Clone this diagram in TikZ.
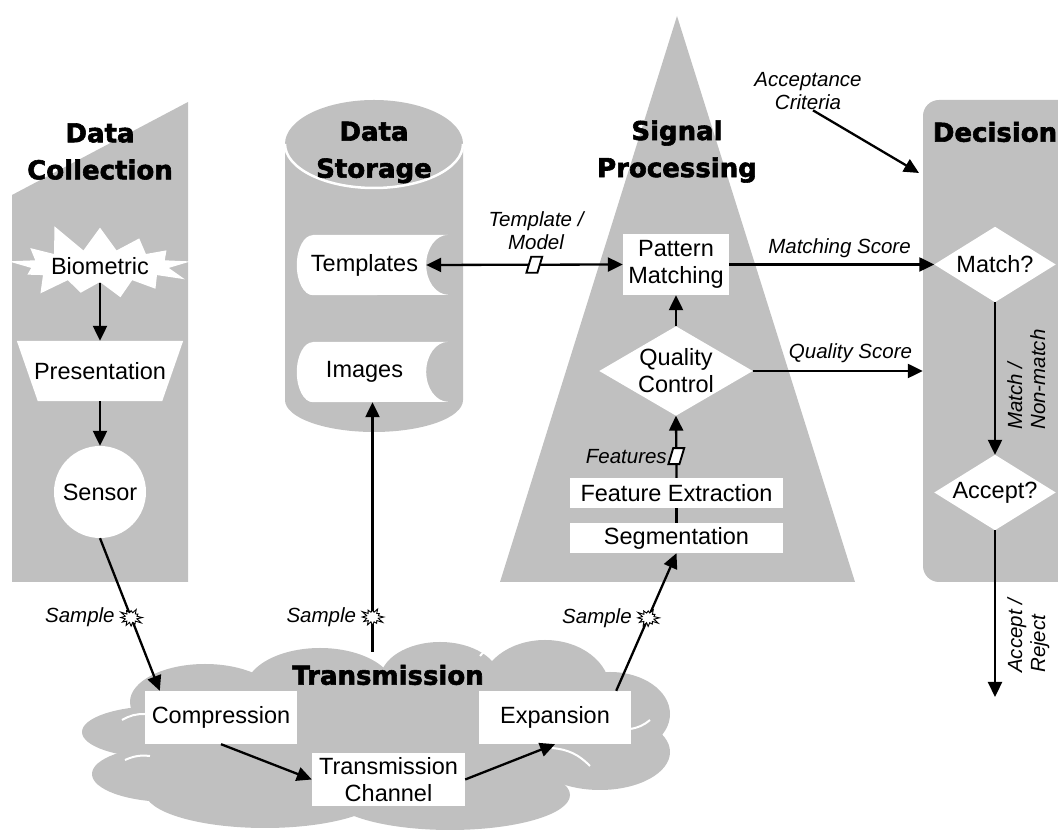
\documentclass[tikz,border=0pt]{standalone}
\usepackage{fontspec}
\setmainfont{Liberation Sans}
\newfontfamily\headfont{DejaVu Sans Bold}[FakeBold=2.2]
\usetikzlibrary{arrows.meta,shapes.symbols,shapes.geometric}
\definecolor{pg}{HTML}{C0C0C0}
\pgfdeclarelayer{back}\pgfdeclarelayer{mid}\pgfsetlayers{back,mid,main}
\begin{document}
\begin{tikzpicture}[x=1pt,y=1pt,
  bx/.style={font=\fontsize{23.5}{27}\selectfont, align=center, inner sep=0pt},
  lab/.style={font=\fontsize{20.5}{23}\selectfont\itshape},
  hd/.style={font=\headfont\fontsize{26}{37}\selectfont, align=center, inner sep=0pt},
  arr/.style={line width=2.3pt, -{Triangle[length=15pt,width=14pt]}},
  biarr/.style={line width=2.3pt, {Triangle[length=15pt,width=14pt]}-{Triangle[length=15pt,width=14pt]}},
  ln/.style={line width=2.3pt},
  burst/.style={starburst, draw, fill=white, line width=0.9pt, starburst points=12, starburst point height=6pt, minimum width=24pt, minimum height=22pt, inner sep=0pt, random starburst=3},
  para/.style={draw, fill=white, line width=1.9pt, minimum width=11pt, minimum height=16pt, inner sep=0pt, xslant=0.3},
  wbox/.style={bx, fill=white},
  cl/.style={white, line width=2pt}
]
\useasboundingbox (0,0) rectangle (1058,832);

% ---------- background panels ----------
\begin{pgfonlayer}{back}
\fill[pg] (12,637) -- (188,730) -- (188,250) -- (12,250) -- cycle;
\fill[pg] (285,688) -- (285,432) arc[start angle=180,end angle=360,x radius=89,y radius=32] -- (463,688) arc[start angle=0,end angle=180,x radius=89,y radius=44] -- cycle;
\draw[white,line width=2.5pt] (285,688) arc[start angle=180,end angle=360,x radius=89,y radius=44];
\fill[pg] (677,816) -- (855,250) -- (500,250) -- cycle;
\node[fill=pg, rounded corners=16pt, minimum width=157pt, minimum height=482pt, inner sep=0pt] (dec) at (1001.5,491) {};
% cloud
\fill[pg] (205,130) ellipse[x radius=75,y radius=38];
\fill[pg] (160,100) ellipse[x radius=78,y radius=26];
\fill[pg] (170,58) ellipse[x radius=78,y radius=28];
\fill[pg] (265,40) ellipse[x radius=120,y radius=36];
\fill[pg] (320,142) ellipse[x radius=75,y radius=42];
\fill[pg] (440,152) ellipse[x radius=60,y radius=38];
\fill[pg] (545,142) ellipse[x radius=65,y radius=50];
\fill[pg] (610,118) ellipse[x radius=60,y radius=42];
\fill[pg] (600,80) ellipse[x radius=70,y radius=38];
\fill[pg] (450,37) ellipse[x radius=120,y radius=35];
\fill[pg] (390,92) ellipse[x radius=180,y radius=60];
\draw[cl] (122,112) to[bend left=15] (145,118);
\draw[cl] (125,72) to[bend left=15] (150,76);
\draw[cl] (552,84) to[bend left=20] (590,66);
\draw[cl] (630,103) to[bend right=15] (650,112);
\draw[cl] (380,168) to[bend left=20] (396,180);
\draw[cl] (480,176) to[bend left=20] (496,186);
\end{pgfonlayer}

% ---------- headings ----------
\node[hd] (hcol) at (100,680.5) {Data\\Collection};
\node[hd] (hsto) at (374,679.5) {Data\\Storage};
\node[hd] (hsig) at (677,680.5) {Signal\\Processing};
\node[hd] (hdec) at (995,700) {Decision};
\node[hd] (htra) at (388,157) {Transmission};

% ---------- data collection ----------
\node[starburst, fill=white, bx, starburst points=13, starburst point height=30pt, minimum width=166pt, minimum height=92pt, random starburst=11] (bio) at (100,566) {Biometric};
\node[bx, minimum width=166pt, minimum height=60pt] (pres) at (100,461) {Presentation};
\node[circle, fill=white, bx, minimum size=92pt] (sensor) at (100,340) {Sensor};

% ---------- data storage ----------
\node[minimum width=151pt, minimum height=60pt, inner sep=0pt, label={[bx,xshift=-8pt]center:Templates}] (templ) at (372.5,567) {};
\node[minimum width=151pt, minimum height=60pt, inner sep=0pt, label={[bx,xshift=-8pt]center:Images}] (imgs) at (372.5,460) {};

% ---------- signal processing ----------
\node[wbox, minimum width=106pt, minimum height=61pt] (pm) at (676,567.5) {Pattern\\Matching};
\node[bx, minimum width=153pt, minimum height=89pt] (qc) at (676,461) {Quality\\Control};
\node[wbox, minimum width=213pt, minimum height=30pt] (fe) at (676.5,339) {Feature Extraction};
\node[wbox, minimum width=213pt, minimum height=30pt] (seg) at (676.5,294) {Segmentation};

% ---------- transmission ----------
\node[wbox, minimum width=152pt, minimum height=53pt] (comp) at (221,114.5) {Compression};
\node[wbox, minimum width=152pt, minimum height=53pt] (exp) at (555,114.5) {Expansion};
\node[wbox, minimum width=153pt, minimum height=53pt] (tc) at (388.5,52.5) {Transmission\\Channel};

% ---------- decision ----------
\node[bx, minimum width=121pt, minimum height=75pt] (match) at (995,567.5) {Match?};
\node[bx, minimum width=121pt, minimum height=75pt] (accept) at (995,339.5) {Accept?};

% ---------- white shapes ----------
\begin{pgfonlayer}{mid}
\fill[white] (pres.north west) -- (pres.north east) -- ([xshift=-21pt]pres.south east) -- ([xshift=21pt]pres.south west) -- cycle;
\fill[white] ([xshift=16pt]templ.north west) -- (templ.north east) arc[start angle=90,end angle=270,x radius=22,y radius=30] -- ([xshift=16pt]templ.south west) arc[start angle=270,end angle=90,x radius=16,y radius=30] -- cycle;
\fill[white] ([xshift=16pt]imgs.north west) -- (imgs.north east) arc[start angle=90,end angle=270,x radius=22,y radius=30] -- ([xshift=16pt]imgs.south west) arc[start angle=270,end angle=90,x radius=16,y radius=30] -- cycle;
\fill[white] (qc.north) -- (qc.east) -- (qc.south) -- (qc.west) -- cycle;
\fill[white] (match.north) -- (match.east) -- (match.south) -- (match.west) -- cycle;
\fill[white] (accept.north) -- (accept.east) -- (accept.south) -- (accept.west) -- cycle;
\end{pgfonlayer}

% ---------- labels ----------
\node[lab, align=center, inner sep=0pt] (tm) at (536,601) {Template /\\Model};
\node[lab, inner sep=0pt] (ms) at (839.5,584) {Matching Score};
\node[lab, inner sep=0pt] (qs) at (850.5,479) {Quality Score};
\node[lab, align=center, inner sep=0pt] (acc) at (808,740.5) {Acceptance\\Criteria};
\node[lab, rotate=90, anchor=north west, align=left, inner sep=0pt] (mnm) at (1007,402) {Match /\\Non-match};
\node[lab, rotate=90, anchor=north west, align=left, inner sep=0pt] (ar) at (1007,159) {Accept /\\Reject};

% ---------- connectors ----------
\coordinate (ctop) at (372.5,180);
\coordinate (accend) at (919,659);
\coordinate (out) at (995,135);
\draw[arr] ([yshift=-17pt]bio.center) -- (pres.north);
\draw[arr] (pres.south) -- (sensor.north);
\draw[arr] (sensor.south) -- node[burst, pos=0.52, label={[lab]left:Sample}] {} ([xshift=15pt]comp.north west);
\draw[arr] (ctop) -- node[burst, pos=0.14, label={[lab]left:Sample}] {} (imgs.south);
\draw[arr] ([xshift=-15pt]exp.north east) -- node[burst, pos=0.53, label={[lab]left:Sample}] {} (seg.south);
\draw[arr] (comp.south) -- (tc.west);
\draw[arr] (tc.east) -- (exp.south);
\draw[ln] (seg.north) -- (fe.south);
\draw[arr] (fe.north) -- node[para, pos=0.35, label={[lab, inner sep=2pt]left:Features}] {} (qc.south);
\draw[arr] (qc.north) -- (pm.south);
\draw[biarr] ([xshift=-22pt]templ.east) -- node[para, pos=0.55] {} (pm.west);
\draw[arr] (pm.east) -- (match.west);
\draw[arr] (qc.east) -- (dec.west |- qc.east);
\draw[arr] ([xshift=5pt]acc.south) -- (accend);
\draw[arr] (match.south) -- (accept.north);
\draw[arr] (accept.south) -- (out);
\end{tikzpicture}
\end{document}
